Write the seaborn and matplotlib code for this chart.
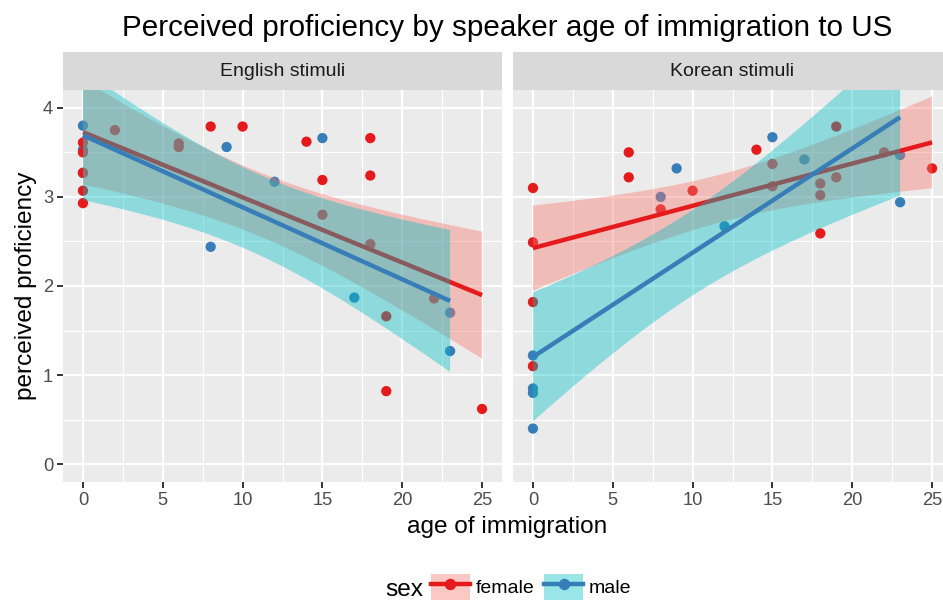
import math
import numpy as np
import pandas as pd
import matplotlib
matplotlib.use("Agg")
import matplotlib.pyplot as plt
from matplotlib.lines import Line2D
from matplotlib.patches import Patch
from matplotlib.ticker import MultipleLocator
import seaborn as sns

# Data
eng_f_x = [0, 0, 0, 0, 0, 2, 6, 6, 8, 10, 14, 15, 15, 18, 18, 18, 19, 19, 22, 25]
eng_f_y = [3.61, 3.50, 3.27, 3.07, 2.93, 3.75, 3.60, 3.56, 3.79, 3.79, 3.62, 3.19, 2.80,
           3.66, 3.24, 2.47, 1.66, 0.82, 1.86, 0.62]
eng_m_x = [0, 0, 0, 8, 9, 12, 15, 17, 23, 23]
eng_m_y = [3.80, 3.53, 3.27, 2.44, 3.56, 3.17, 3.66, 1.87, 1.70, 1.27]

kor_f_x = [0, 0, 0, 0, 6, 6, 8, 10, 14, 15, 15, 18, 18, 18, 19, 19, 22, 25]
kor_f_y = [3.10, 2.49, 1.82, 1.10, 3.50, 3.22, 2.86, 3.07, 3.53, 3.37, 3.12,
           3.15, 3.02, 2.59, 3.79, 3.22, 3.50, 3.32]
kor_m_x = [0, 0, 0, 0, 8, 9, 12, 15, 17, 23, 23]
kor_m_y = [1.22, 0.85, 0.80, 0.40, 3.00, 3.32, 2.67, 3.67, 3.42, 3.47, 2.94]

panels = ["English stimuli", "Korean stimuli"]
sexes = ["female", "male"]
x_ticks = [0, 5, 10, 15, 20, 25]
y_ticks = [0, 1, 2, 3, 4]

point_colors = {"female": "#E41A1C", "male": "#377EB8"}
ribbon_colors = {"female": "#F8766D", "male": "#00BFC4"}

frames = []
for panel, (fx, fy, mx, my) in zip(panels, [(eng_f_x, eng_f_y, eng_m_x, eng_m_y),
                                            (kor_f_x, kor_f_y, kor_m_x, kor_m_y)]):
    frames.append(pd.DataFrame({"age": mx, "prof": my, "sex": "male", "stim": panel}))
    frames.append(pd.DataFrame({"age": fx, "prof": fy, "sex": "female", "stim": panel}))
df = pd.concat(frames, ignore_index=True)


def t_quantile(p, dof):
    # numeric inverse of the Student t cdf (no scipy here)
    c = math.gamma((dof + 1) / 2) / (math.sqrt(dof * math.pi) * math.gamma(dof / 2))
    t = np.linspace(0, 10, 20001)
    pdf = c * (1 + t ** 2 / dof) ** (-(dof + 1) / 2)
    cdf = 0.5 + np.concatenate([[0], np.cumsum((pdf[1:] + pdf[:-1]) / 2 * np.diff(t))])
    return float(np.interp(p, cdf, t))


def lm_band(x, y, grid, level=0.95):
    x = np.asarray(x, float)
    y = np.asarray(y, float)
    n = len(x)
    b, a = np.polyfit(x, y, 1)
    resid = y - (a + b * x)
    s = np.sqrt(np.sum(resid ** 2) / (n - 2))
    sxx = np.sum((x - x.mean()) ** 2)
    se = s * np.sqrt(1 / n + (grid - x.mean()) ** 2 / sxx)
    tq = t_quantile(0.5 + level / 2, n - 2)
    fit = a + b * grid
    return fit - tq * se, fit + tq * se


plt.rcParams["font.family"] = ["Liberation Sans", "DejaVu Sans"]

W, H = 943, 603
fig = plt.figure(figsize=(W / 100, H / 100), dpi=100)

pan_w = 439
pan_l = [63, 513]
pan_top, pan_bot = 90, 482
strip_top = 52

for i, panel in enumerate(panels):
    ax = fig.add_axes([pan_l[i] / W, 1 - pan_bot / H, pan_w / W, (pan_bot - pan_top) / H])
    ax.set_facecolor("#EBEBEB")
    for s in ax.spines.values():
        s.set_visible(False)
    ax.set_axisbelow(True)
    ax.xaxis.set_major_locator(MultipleLocator(5))
    ax.xaxis.set_minor_locator(MultipleLocator(2.5))
    ax.yaxis.set_major_locator(MultipleLocator(1))
    ax.yaxis.set_minor_locator(MultipleLocator(0.5))
    ax.grid(which="major", color="white", lw=1.6)
    ax.grid(which="minor", color="white", lw=0.8)
    ax.tick_params(which="minor", length=0)
    ax.tick_params(which="major", length=4.1, width=1.4, color="#333333",
                   labelcolor="#4D4D4D", labelsize=13.2, pad=3)

    sub = df[df["stim"] == panel]
    sns.scatterplot(data=sub, x="age", y="prof", hue="sex", palette=point_colors,
                    s=55, linewidth=0, legend=False, zorder=2, ax=ax)

    z = 3
    for sex in sexes:
        g = sub[sub["sex"] == sex]
        grid = np.linspace(g["age"].min(), g["age"].max(), 100)
        lo, hi = lm_band(g["age"], g["prof"], grid)
        ax.fill_between(grid, lo, hi, facecolor=ribbon_colors[sex], alpha=0.4,
                        edgecolor="none", zorder=z)
        sns.regplot(data=g, x="age", y="prof", scatter=False, ci=None, truncate=True,
                    color=point_colors[sex],
                    line_kws=dict(lw=3.2, zorder=z + 1, solid_capstyle="butt"), ax=ax)
        z += 2

    ax.set_xlim(-1.25, 26.25)
    ax.set_ylim(-0.2, 4.2)
    ax.set_xticks(x_ticks)
    ax.set_yticks(y_ticks)
    ax.set_xlabel("")
    ax.set_ylabel("")
    if i == 1:
        ax.tick_params(axis="y", which="both", length=0, labelleft=False)

    sax = fig.add_axes([pan_l[i] / W, 1 - pan_top / H, pan_w / W, (pan_top - strip_top) / H])
    sax.set_facecolor("#D9D9D9")
    sax.set_xticks([])
    sax.set_yticks([])
    for s in sax.spines.values():
        s.set_visible(False)
    sax.text(0.5, 0.5, panel, ha="center", va="center", fontsize=14, color="#1A1A1A",
             transform=sax.transAxes)

fig.text(507.5 / W, 1 - 28 / H, "Perceived proficiency by speaker age of immigration to US",
         ha="center", va="center", fontsize=21.3, color="black")
fig.text(507.5 / W, 1 - 527 / H, "age of immigration", ha="center", va="center",
         fontsize=17.6, color="black")
fig.text(26 / W, 1 - 286 / H, "perceived proficiency", ha="center", va="center",
         rotation=90, fontsize=17.6, color="black")

fig.text(404 / W, 1 - 590 / H, "sex", ha="center", va="center", fontsize=17.6)
handles = []
for sex in sexes:
    bg = Patch(facecolor=ribbon_colors[sex], alpha=0.4, edgecolor="none")
    ln = Line2D([], [], color=point_colors[sex], lw=3.2, marker="o", markersize=7.2)
    handles.append((bg, ln))
fig.legend(handles, sexes, loc="center left", bbox_to_anchor=(431 / W, 1 - 587 / H),
           ncol=2, frameon=False, fontsize=14, handlelength=2.0, handleheight=1.7,
           handletextpad=0.3, columnspacing=0.5, borderpad=0, borderaxespad=0)

fig.savefig("out.png", dpi=100)
